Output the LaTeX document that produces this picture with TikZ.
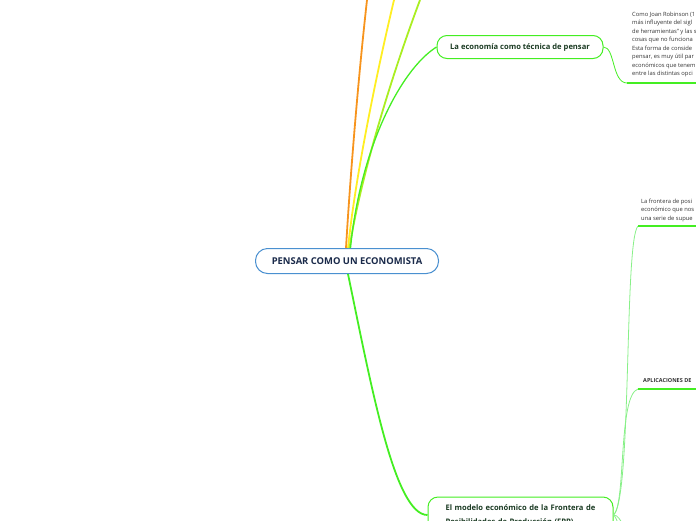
\documentclass[tikz,border=0pt]{standalone}
\usepackage{fontspec}
\setmainfont{Open Sans}
\definecolor{rootblue}{HTML}{4A90D0}
\definecolor{navy}{HTML}{1A2A4A}
\definecolor{brgreen}{HTML}{44EE22}
\definecolor{lgreen}{HTML}{88F088}
\definecolor{dgreen}{HTML}{1A3A22}
\definecolor{orangeln}{HTML}{F7941D}
\definecolor{yellowln}{HTML}{FFEE22}
\definecolor{ygreen}{HTML}{AAEE22}
\definecolor{txtgray}{HTML}{333333}
\begin{document}
\begin{tikzpicture}[x=1pt,y=-1pt,
  rootbox/.style={draw=rootblue, line width=1pt, rounded corners=12pt, fill=white,
    minimum width=183pt, minimum height=25pt, inner sep=0pt, text=navy,
    font=\fontsize{9.4}{11}\selectfont\bfseries},
  subbox/.style={draw=brgreen, line width=1pt, rounded corners=10pt, fill=white,
    inner sep=0pt, text=dgreen, font=\fontsize{7.6}{14}\selectfont\bfseries},
  smalltxt/.style={anchor=north west, inner sep=0pt, align=left, text=txtgray,
    font=\fontsize{5.8}{8.5}\selectfont},
  mainln/.style={line width=1.8pt},
  thinln/.style={draw=lgreen, line width=0.8pt},
  uline/.style={draw=brgreen, line width=2pt}
]
\useasboundingbox (0,0) rectangle (696,520);

% nodes
\node[rootbox] (root) at (347,261) {PENSAR COMO UN ECONOMISTA};
\node[subbox, minimum width=166pt, minimum height=23pt] (econ) at (520,47) {La economía como técnica de pensar};
\node[subbox, minimum width=185pt, minimum height=36pt, align=left, text width=150pt] (fpp) at (520.5,515)
  {El modelo económico de la Frontera de\\Posibilidades de Producción (FPP)};

\node[smalltxt] (robin) at (632,11.5) {Como Joan Robinson (1\\más influyente del sigl\\de herramientas" y las s\\cosas que no funciona\\Esta forma de conside\\pensar, es muy útil par\\económicos que tenem\\entre las distintas opci};
\node[smalltxt] (front) at (641,198.5) {La frontera de posi\\económico que nos\\una serie de supue};
\node[smalltxt, font=\fontsize{5.5}{6}\selectfont\bfseries] (aplic) at (643,378.5) {APLICACIONES DE};

% off-page coordinates
\coordinate (o1) at (367,0);
\coordinate (o2) at (394,0);
\coordinate (o3) at (420,0);
\coordinate (u1a) at (627,83);
\coordinate (u1b) at (696,83);
\coordinate (u2a) at (638,226);
\coordinate (u2b) at (696,226);
\coordinate (u3a) at (638,389);
\coordinate (u3b) at (696,389);
\coordinate (d1) at (624,526);
\coordinate (d2) at (619,526);

% connectors from root
\draw[mainln, draw=orangeln] ([xshift=-1pt]root.north) .. controls (350,180) and (358,80) .. (o1);
\draw[mainln, draw=yellowln] ([xshift=1pt]root.north) .. controls (355,180) and (375,80) .. (o2);
\draw[mainln, draw=ygreen] ([xshift=2.5pt]root.north) .. controls (360,180) and (390,80) .. (o3);
\draw[line width=1.3pt, draw=brgreen] ([xshift=3.5pt]root.north) .. controls (360,150) and (400,70) .. (econ.west);
\draw[mainln, draw=brgreen] ([xshift=1pt]root.south) .. controls (372,390) and (395,515) .. (fpp.west);

% econ child
\draw[line width=0.8pt, draw=brgreen] (econ.east) .. controls (615,47) and (612,83) .. (u1a);
\draw[uline] (u1a) -- (u1b);

% fpp children
\draw[thinln] (fpp.east) .. controls (632,500) and (624,240) .. (u2a);
\draw[uline] (u2a) -- (u2b);
\draw[thinln] (fpp.east) .. controls (626,505) and (618,395) .. (u3a);
\draw[uline] (u3a) -- (u3b);
\draw[thinln] (fpp.east) .. controls (618,515) and (620,520) .. (d1);
\draw[thinln] (fpp.east) .. controls (615,516) and (617,520) .. (d2);
\end{tikzpicture}
\end{document}
